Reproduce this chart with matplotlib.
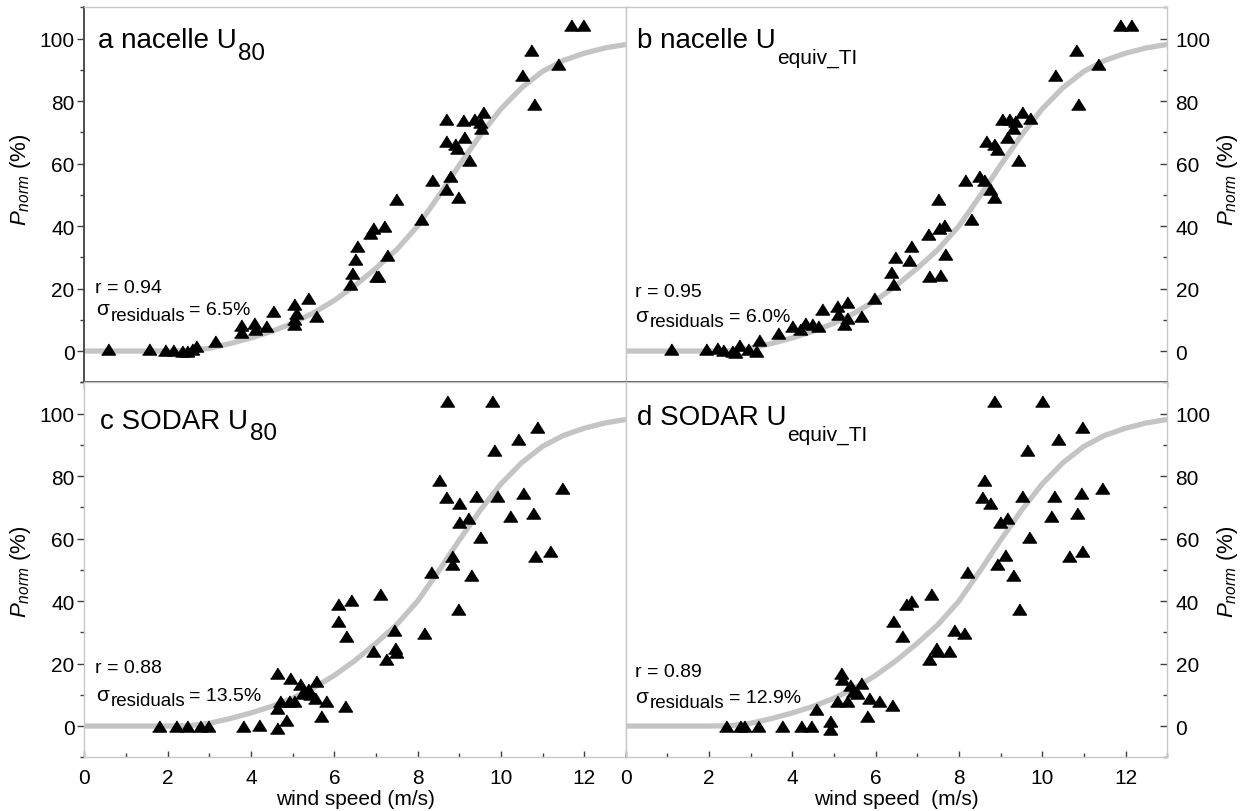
import matplotlib
matplotlib.use("Agg")
import matplotlib.pyplot as plt
import matplotlib.transforms as mtransforms
from matplotlib.ticker import MultipleLocator

plt.rcParams['font.family'] = ['Liberation Sans', 'DejaVu Sans']
plt.rcParams['mathtext.fontset'] = 'custom'
plt.rcParams['mathtext.rm'] = 'Liberation Sans'
plt.rcParams['mathtext.it'] = 'Liberation Sans:italic'
plt.rcParams['mathtext.bf'] = 'Liberation Sans:bold'

# ---------------- data ----------------
curve_x = [0, 0.5, 1, 1.5, 2, 2.5, 3, 3.5, 4, 4.5, 5, 5.5, 6, 6.5, 7, 7.5, 8,
           8.5, 9, 9.5, 10, 10.5, 11, 11.5, 12, 12.5, 13]
curve_y = [0, 0, 0, 0, 0, 0.1, 0.9, 2.4, 4.2, 6.3, 8.9, 12.2, 16.2, 21.0, 26.5,
           32.5, 40.0, 49.5, 59.5, 69.0, 77.5, 84.3, 89.5, 93.0, 95.3, 97.0, 98.1]

a_x = [0.57, 1.55, 1.94, 2.13, 2.34, 2.46, 2.59, 2.68, 3.14, 3.75, 3.75, 4.06,
       4.1, 4.36, 4.52, 5.02, 5.08, 5.02, 5.02, 5.38, 5.56, 6.38, 6.42, 6.5,
       6.54, 6.86, 6.92, 7.0, 7.06, 7.19, 7.26, 7.48, 8.07, 8.34, 8.68, 8.78,
       8.96, 8.67, 8.68, 8.9, 8.94, 9.12, 9.1, 9.24, 9.35, 9.5, 9.58, 9.52,
       10.51, 10.72, 10.8, 11.36, 11.68, 11.98]
a_y = [0.6, 0.6, 0.3, 0.3, -0.1, -0.1, 0.6, 1.7, 3.2, 6.0, 8.3, 9.1,
       7.0, 8.0, 12.8, 15.0, 12.3, 10.2, 8.6, 17.1, 11.3, 21.4, 25.1, 29.4,
       33.6, 37.9, 39.3, 24.0, 24.0, 40.0, 30.8, 48.8, 42.1, 54.6, 52.0, 56.0,
       49.4, 67.2, 74.1, 66.1, 65.0, 68.5, 73.8, 61.0, 74.4, 73.4, 76.6, 71.5,
       88.3, 96.2, 78.9, 92.0, 104.3, 104.3]

b_x = [1.08, 1.93, 2.18, 2.34, 2.54, 2.62, 2.73, 2.94, 3.14, 3.21, 3.66, 3.99,
       4.19, 4.31, 4.47, 4.62, 4.71, 5.07, 5.31, 5.1, 5.31, 5.24, 5.64, 5.95,
       6.41, 6.36, 6.47, 6.8, 6.85, 7.25, 7.51, 7.64, 7.49, 7.28, 7.55, 7.67,
       8.29, 8.15, 8.48, 8.59, 8.75, 8.85, 8.64, 8.84, 8.91, 9.15, 9.03, 9.21,
       9.35, 9.29, 9.51, 9.71, 9.42, 10.31, 10.81, 10.87, 11.35, 11.87, 12.13]
b_y = [0.6, 0.6, 0.9, 0.3, -0.1, -0.4, 2.0, 0.6, 0.1, 3.5, 5.9, 8.0,
       7.0, 9.1, 8.5, 8.0, 13.4, 14.4, 15.8, 11.8, 10.7, 8.8, 11.3, 17.1,
       21.6, 25.3, 30.1, 29.1, 33.6, 37.6, 39.3, 40.3, 48.8, 24.0, 24.4, 30.9,
       42.4, 54.6, 56.0, 54.6, 51.7, 49.3, 67.2, 66.3, 64.8, 68.5, 74.1, 74.1,
       73.6, 71.5, 76.6, 74.6, 61.0, 88.3, 96.2, 78.9, 92.0, 104.3, 104.3]

c_x = [1.78, 2.19, 2.46, 2.78, 2.97, 3.8, 4.19, 4.62, 4.94, 4.63, 4.7, 4.62,
       4.84, 4.9, 5.02, 5.18, 5.22, 5.36, 5.42, 5.55, 5.54, 5.79, 5.68, 6.26,
       6.1, 6.4, 6.08, 6.27, 7.1, 6.92, 7.24, 7.44, 7.46, 7.48, 8.15, 8.31,
       8.52, 8.7, 8.68, 8.82, 8.82, 8.98, 9.0, 9.0, 9.22, 9.27, 9.39, 9.5,
       9.79, 9.83, 9.91, 10.22, 10.4, 10.54, 10.78, 10.86, 10.82, 11.18, 11.46]
c_y = [0, 0, 0, 0, 0, 0, 0.3, 16.9, 15.5, 5.9, 8.0, -0.5,
       1.9, 8.0, 8.0, 13.3, 10.7, 11.7, 10.1, 14.4, 9.1, 8.0, 3.2, 6.5,
       38.9, 40.2, 33.6, 28.8, 42.1, 24.0, 21.3, 30.7, 25.1, 23.7, 29.9, 49.3,
       78.7, 104, 73.4, 54.4, 51.7, 37.3, 71.3, 65.3, 66.7, 48.2, 73.6, 60.6,
       104, 88.3, 73.6, 67.2, 91.7, 74.5, 68.1, 95.8, 54.4, 56.0, 76.3]

d_x = [2.41, 2.74, 2.84, 3.18, 3.76, 4.22, 4.44, 4.9, 4.9, 4.56, 5.08, 5.31,
       5.17, 5.19, 5.39, 5.45, 5.55, 5.64, 5.83, 6.07, 6.39, 5.79, 6.41, 6.64,
       6.73, 6.84, 7.32, 7.29, 7.45, 7.47, 7.77, 7.87, 8.12, 8.2, 8.6, 8.83,
       8.55, 8.75, 8.91, 9.11, 8.99, 9.15, 9.31, 9.44, 9.51, 9.69, 9.63, 9.99,
       10.29, 10.2, 10.39, 10.65, 10.83, 10.92, 10.95, 10.95, 11.43]
d_y = [0, 0, 0, 0, 0, 0, 0, -0.8, 1.6, 5.3, 8.0, 8.0,
       16.9, 15.2, 13.0, 11.2, 10.7, 13.9, 9.1, 8.0, 6.6, 3.2, 33.6, 28.8,
       38.9, 40.0, 42.1, 21.3, 25.1, 24.0, 24.0, 30.7, 29.9, 49.3, 78.7, 104,
       73.4, 71.3, 51.7, 54.6, 65.3, 66.7, 48.2, 37.3, 73.6, 60.6, 88.3, 104,
       73.6, 67.2, 91.7, 54.4, 68.1, 74.5, 56.0, 95.8, 76.3]

title_main = ["a nacelle U", "b nacelle U", "c SODAR U", "d SODAR U"]
title_sub = ["80", "equiv_TI", "80", "equiv_TI"]
r_texts = ["r = 0.94", "r = 0.95", "r = 0.88", "r = 0.89"]
sigma_texts = ["= 6.5%", "= 6.0%", "= 13.5%", "= 12.9%"]
xlabels = ["wind speed (m/s)", "wind speed  (m/s)"]
ylabel = "$P_{norm}$ (%)"

# ---------------- layout ----------------
W, H = 1250, 812
fig = plt.figure(figsize=(W / 100, H / 100), dpi=100)
renderer = fig.canvas.get_renderer()

left_x0, right_x0, panel_w = 84.4, 625.7, 541.5
top_y0, mid_y, bot_y1 = 8.3, 383.3, 758.3


def add_ax(x0, y_top, y_bot):
    return fig.add_axes([x0 / W, 1 - y_bot / H, panel_w / W, (y_bot - y_top) / H])


def rich(ax, x, y, parts):
    """parts: (text, fontsize, drop_px, gap_px) drawn left to right."""
    xoff = 0.0
    for txt, fs, drop, gap in parts:
        xoff += gap
        tr = mtransforms.offset_copy(ax.transAxes, fig=fig, x=xoff, y=-drop,
                                     units='dots')
        t = ax.text(x, y, txt, transform=tr, fontsize=fs, ha='left',
                    va='baseline')
        xoff += t.get_window_extent(renderer).width


ax_a = add_ax(left_x0, top_y0, mid_y)
ax_b = add_ax(right_x0, top_y0, mid_y)
ax_c = add_ax(left_x0, mid_y, bot_y1)
ax_d = add_ax(right_x0, mid_y, bot_y1)
axes = [ax_a, ax_b, ax_c, ax_d]
xs = [a_x, b_x, c_x, d_x]
ys = [a_y, b_y, c_y, d_y]

tri = [(-1, -0.8), (1, -0.8), (0, 0.8)]
dark = '#404040'
light = '#c8c8c8'

title_pos = [(0.025, 0.893), (0.020, 0.893), (0.029, 0.877), (0.020, 0.889)]
sub_size = [17.5, 15, 17.5, 15]
sub_drop = [11.5, 15.5, 10.5, 15.5]
r_pos = [(0.0196, 0.240), (0.017, 0.231), (0.0196, 0.227), (0.017, 0.216)]
s_pos = [(0.021, 0.182), (0.018, 0.164), (0.021, 0.154), (0.018, 0.148)]

for i, ax in enumerate(axes):
    ax.plot(curve_x, curve_y, color='#c4c4c4', lw=3.8, solid_capstyle='butt',
            solid_joinstyle='round', zorder=2, clip_on=True)
    ax.plot(xs[i], ys[i], ls='none', marker=tri, ms=10, color='black',
            mec='black', zorder=3, clip_on=False)
    ax.set_xlim(0, 13)
    ax.set_ylim(-10, 110)
    ax.xaxis.set_major_locator(MultipleLocator(2))
    ax.xaxis.set_minor_locator(MultipleLocator(1))
    ax.yaxis.set_major_locator(MultipleLocator(20))
    ax.yaxis.set_minor_locator(MultipleLocator(10))
    for sp in ax.spines.values():
        sp.set_color(light)
        sp.set_linewidth(1.0)

    rich(ax, *title_pos[i], [(title_main[i], 20, 0, 0),
                             (title_sub[i], sub_size[i], sub_drop[i], 1.5)])
    ax.text(*r_pos[i], r_texts[i], transform=ax.transAxes, fontsize=14,
            ha='left', va='baseline')
    rich(ax, *s_pos[i], [("σ", 15, 0, 0), ("residuals", 13.5, 5.7, 1.7),
                         (sigma_texts[i], 14, 0, 4)])

    is_left = i in (0, 2)
    is_top = i in (0, 1)

    # y axis
    if is_left:
        ax.tick_params(axis='y', which='both', left=True, right=False,
                       labelleft=True, labelright=False, direction='out',
                       color=dark, labelsize=15, pad=2)
        ax.tick_params(axis='y', which='major', length=5, width=1)
        ax.tick_params(axis='y', which='minor', length=3, width=1)
        ax.set_ylabel(ylabel, fontsize=16)
        ax.yaxis.set_label_coords(-0.095, 0.542 if is_top else 0.497)
    else:
        ax.yaxis.set_label_position('right')
        ax.tick_params(axis='y', which='both', left=False, right=True,
                       labelleft=False, labelright=True, direction='in',
                       color=dark, labelsize=15, pad=6)
        ax.tick_params(axis='y', which='major', length=5, width=1)
        ax.tick_params(axis='y', which='minor', length=3, width=1)
        ax.set_ylabel(ylabel, fontsize=16, rotation=90)
        ax.yaxis.set_label_coords(1.088, 0.542 if is_top else 0.497)

    # x axis
    if is_top:
        ax.tick_params(axis='x', which='both', bottom=True, top=False,
                       labelbottom=False, direction='out', color=dark)
        ax.tick_params(axis='x', which='major', length=5, width=1)
        ax.tick_params(axis='x', which='minor', length=4, width=1)
        ax.spines['bottom'].set_color(dark)
        ax.spines['bottom'].set_linewidth(1.3)
    else:
        ax.tick_params(axis='x', which='both', bottom=True, top=False,
                       labelbottom=True, direction='in', color=dark,
                       labelsize=15, pad=8)
        ax.tick_params(axis='x', which='major', length=4, width=1)
        ax.tick_params(axis='x', which='minor', length=3, width=1)
        ax.set_xlabel(xlabels[0] if is_left else xlabels[1], fontsize=15)
        ax.xaxis.set_label_coords(0.5, -0.111)
        ax.xaxis.label.set_verticalalignment('center')

ax_a.spines['left'].set_color(dark)
ax_a.spines['left'].set_linewidth(1.3)

fig.savefig("out.png", dpi=100)
